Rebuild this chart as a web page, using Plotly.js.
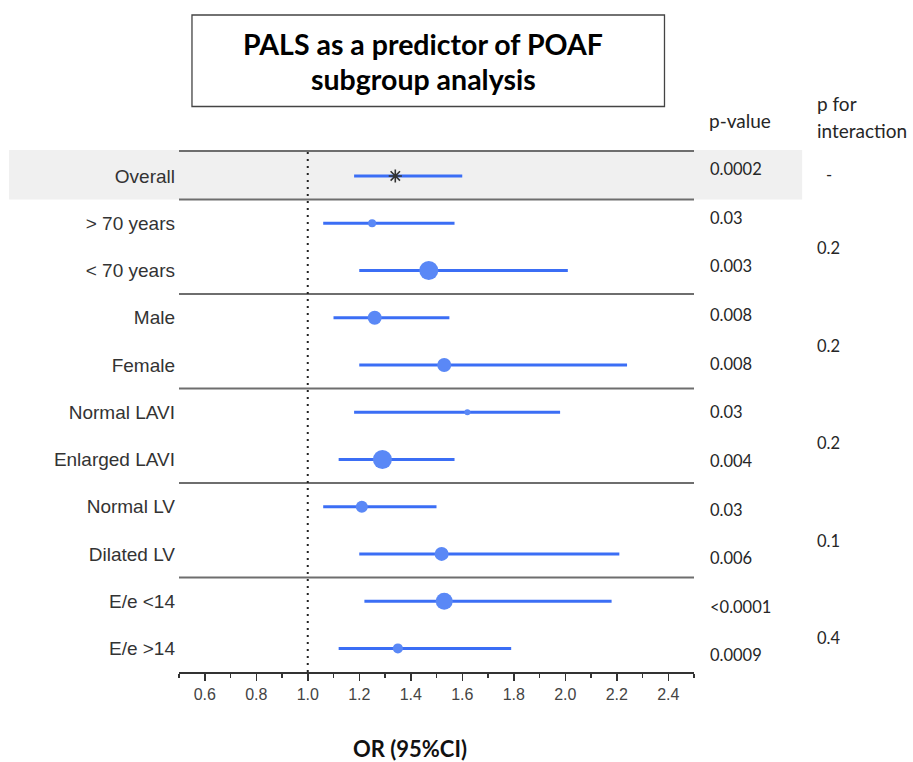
<!DOCTYPE html>
<html>
<head>
<meta charset="utf-8">
<script src="https://cdn.plot.ly/plotly-3.0.1.min.js"></script>
<style>
  html, body { margin: 0; padding: 0; background: #fff; }
  #chart { width: 913px; height: 762px; }
</style>
</head>
<body>
<div id="chart"></div>
<script>
// Subgroups, top to bottom
var subgroups = ['Overall', '> 70 years', '< 70 years', 'Male', 'Female',
                 'Normal LAVI', 'Enlarged LAVI', 'Normal LV', 'Dilated LV',
                 'E/e <14', 'E/e >14'];

// Odds ratio with 95% confidence limits
var oddsRatio = [1.34, 1.25, 1.47, 1.26, 1.53, 1.62, 1.29, 1.21, 1.52, 1.53, 1.35];
var ciLower   = [1.18, 1.06, 1.20, 1.10, 1.20, 1.18, 1.12, 1.06, 1.20, 1.22, 1.12];
var ciUpper   = [1.60, 1.57, 2.01, 1.55, 2.24, 1.98, 1.57, 1.50, 2.21, 2.18, 1.79];

// Relative weight of each subgroup (marker diameter, px)
var weight = [11, 8, 19, 14, 14, 6, 19, 12, 14, 17, 10];

// p-values per subgroup and p for interaction per pair of subgroups
var pValues = ['0.0002', '0.03', '0.003', '0.008', '0.008', '0.03',
               '0.004', '0.03', '0.006', '<0.0001', '0.0009'];
var pInteraction = ['0.2', '0.2', '0.2', '0.1', '0.4'];
var pOverallInteraction = '-';

// x axis ticks
var xTicks = [0.6, 0.8, 1.0, 1.2, 1.4, 1.6, 1.8, 2.0, 2.2, 2.4];

var titleLines = ['PALS as a predictor of POAF', 'subgroup analysis'];

function esc(s) {
  return s.replace(/&/g, '&amp;').replace(/</g, '&lt;').replace(/>/g, '&gt;');
}

var rowIdx = subgroups.map(function (_, i) { return i; });

var labelFont = 'Liberation Sans, Arial, sans-serif';
var sideFont = 'Lato, Open Sans, sans-serif';

var trace = {
  type: 'scatter',
  mode: 'markers',
  x: oddsRatio,
  y: rowIdx,
  error_x: {
    type: 'data',
    symmetric: false,
    array: oddsRatio.map(function (v, i) { return ciUpper[i] - v; }),
    arrayminus: oddsRatio.map(function (v, i) { return v - ciLower[i]; }),
    color: '#3b6ef5',
    thickness: 3,
    width: 0
  },
  marker: {
    size: weight,
    symbol: rowIdx.map(function (i) { return i === 0 ? 'asterisk-open' : 'circle'; }),
    color: rowIdx.map(function (i) { return i === 0 ? '#333333' : '#5a88f6'; }),
    line: {
      width: rowIdx.map(function (i) { return i === 0 ? 1.6 : 0; }),
      color: '#3a3a3a'
    },
    opacity: 1
  },
  hoverinfo: 'skip',
  showlegend: false
};

var shapes = [];
// Grey band behind the overall row
shapes.push({
  type: 'rect', layer: 'below', xref: 'paper', yref: 'y',
  x0: -0.33, x1: 1.21, y0: -0.55, y1: 0.5,
  fillcolor: '#f0f0f0', line: { width: 0 }
});
// Group separators
[-0.53, 0.5, 2.5, 4.5, 6.5, 8.5].forEach(function (yy) {
  shapes.push({
    type: 'line', layer: 'below', xref: 'paper', yref: 'y',
    x0: 0, x1: 1, y0: yy, y1: yy,
    line: { color: '#6e6e6e', width: 2 }
  });
});
// Reference line at OR = 1
shapes.push({
  type: 'line', layer: 'below', xref: 'x', yref: 'paper',
  x0: 1, x1: 1, y0: 0, y1: 1,
  line: { color: '#222', width: 2, dash: '2px,5px' }
});
// Title box
shapes.push({
  type: 'rect', xref: 'paper', yref: 'paper',
  x0: 0.0252, x1: 0.9427, y0: 1.0833, y1: 1.2586,
  line: { color: '#444', width: 1.3 }, fillcolor: 'rgba(0,0,0,0)'
});

var annotations = [];
var sideStyle = { family: sideFont, size: 16.5, color: '#262626' };
var headStyle = { family: sideFont, size: 19, color: '#262626' };

pValues.forEach(function (p, i) {
  annotations.push({
    xref: 'paper', yref: 'y', x: 1.027, y: i * 1.03 - 0.15,
    xanchor: 'left', yanchor: 'middle', showarrow: false,
    text: esc(p), font: sideStyle
  });
});
annotations.push({
  xref: 'paper', yref: 'y', x: 1.252, y: -0.02,
  xanchor: 'left', yanchor: 'middle', showarrow: false,
  text: esc(pOverallInteraction), font: sideStyle
});
pInteraction.forEach(function (p, k) {
  annotations.push({
    xref: 'paper', yref: 'y', x: 1.235, y: 1.53 + k * 2.064,
    xanchor: 'left', yanchor: 'middle', showarrow: false,
    text: esc(p), font: sideStyle
  });
});
// Column headers
annotations.push({
  xref: 'paper', yref: 'paper', x: 1.025, y: 1.0556,
  xanchor: 'left', yanchor: 'middle', showarrow: false,
  text: 'p-value', font: headStyle
});
annotations.push({
  xref: 'paper', yref: 'paper', x: 1.235, y: 1.0885,
  xanchor: 'left', yanchor: 'middle', showarrow: false,
  text: 'p for', font: headStyle
});
annotations.push({
  xref: 'paper', yref: 'paper', x: 1.235, y: 1.0368,
  xanchor: 'left', yanchor: 'middle', showarrow: false,
  text: 'interaction', font: headStyle
});
// Second title line inside the box
annotations.push({
  xref: 'paper', yref: 'paper', x: (423 - 179) / 515, y: (672 - 79) / 522,
  xanchor: 'center', yanchor: 'middle', showarrow: false,
  text: '<b>' + titleLines[1] + '</b>',
  font: { family: sideFont, size: 28.5, color: '#000' }
});
// Axis caption
annotations.push({
  xref: 'paper', yref: 'paper', x: 0.4485, y: -0.1456,
  xanchor: 'center', yanchor: 'middle', showarrow: false,
  text: '<b>OR (95%CI)</b>',
  font: { family: sideFont, size: 22, color: '#111' }
});

var layout = {
  width: 913,
  height: 762,
  margin: { l: 179, r: 219, t: 150, b: 90, pad: 0 },
  paper_bgcolor: '#ffffff',
  plot_bgcolor: 'rgba(0,0,0,0)',
  title: {
    text: titleLines[0],
    xref: 'container', yref: 'container',
    x: 423 / 913, xanchor: 'center',
    y: 1 - 45 / 762, yanchor: 'middle',
    font: { family: sideFont, size: 28.5, color: '#000', weight: 'bold' }
  },
  xaxis: {
    range: [0.5, 2.5],
    tickmode: 'array',
    tickvals: xTicks,
    ticktext: xTicks.map(function (v) { return v.toFixed(1); }),
    ticks: 'outside', ticklen: 7, tickwidth: 1.5, tickcolor: '#333',
    showline: true, linecolor: '#333', linewidth: 1.5,
    showgrid: false, zeroline: false,
    tickfont: { family: labelFont, size: 16, color: '#444' },
    minor: {
      tickmode: 'linear', tick0: 0.5, dtick: 0.2,
      ticks: 'outside', ticklen: 4, tickwidth: 1.5, tickcolor: '#333',
      showgrid: false
    },
    fixedrange: true
  },
  yaxis: {
    range: [10.5, -0.55],
    tickmode: 'array',
    tickvals: rowIdx,
    ticktext: subgroups.map(esc),
    ticks: '', showline: false, showgrid: false, zeroline: false,
    ticklabelstandoff: 3,
    tickfont: { family: labelFont, size: 19, color: '#333' },
    fixedrange: true
  },
  shapes: shapes,
  annotations: annotations,
  showlegend: false
};

Plotly.newPlot('chart', [trace], layout, { displayModeBar: false, staticPlot: true });
</script>
</body>
</html>
